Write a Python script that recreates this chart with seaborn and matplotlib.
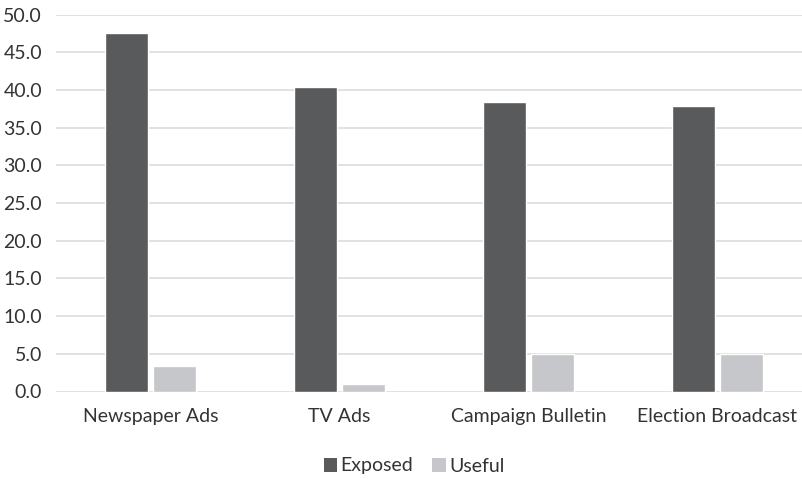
import matplotlib
matplotlib.use("Agg")
import matplotlib.pyplot as plt
from matplotlib.patches import Patch
import seaborn as sns
import pandas as pd

categories = ["Newspaper Ads", "TV Ads", "Campaign Bulletin", "Election Broadcast"]
exposed = [47.5, 40.4, 38.4, 37.9]
useful = [3.4, 1.0, 5.0, 5.0]
series_names = ["Exposed", "Useful"]
y_ticks = [0, 5, 10, 15, 20, 25, 30, 35, 40, 45, 50]
colors = ["#595a5c", "#c6c7ca"]

df = pd.DataFrame({
    "category": categories * 2,
    "value": exposed + useful,
    "series": [series_names[0]] * len(categories) + [series_names[1]] * len(categories),
})

sns.set_theme(style="white")
plt.rcParams["font.family"] = ["Lato", "DejaVu Sans"]

fig = plt.figure(figsize=(8.03, 4.79), dpi=100)
W, H = 803, 479
ax = fig.add_axes([56 / W, (H - 391.5) / H, 756 / W, 377 / H])

sns.barplot(data=df, x="category", y="value", hue="series", order=categories,
            hue_order=series_names, palette=colors, width=0.513, gap=0.11,
            saturation=1, legend=False, ax=ax, zorder=3)

ax.set_ylim(0, 50)
ax.set_xlim(-0.5, len(categories) - 0.5)
ax.set_yticks(y_ticks)
ax.set_yticklabels([f"{v:.1f}" for v in y_ticks])
ax.yaxis.grid(True, color="#d9d9d9", linewidth=1.1, zorder=0)
ax.set_axisbelow(True)
for s in ax.spines.values():
    s.set_visible(False)
ax.set_xlabel("")
ax.set_ylabel("")
ax.tick_params(axis="y", length=0, pad=10, labelsize=14, labelcolor="#333333")
ax.tick_params(axis="x", length=0, pad=12, labelsize=14, labelcolor="#333333")

handles = [Patch(facecolor=c, edgecolor="none") for c in colors]
fig.legend(handles, series_names, loc="center", bbox_to_anchor=(414 / W, 1 - 466 / H),
           ncol=2, frameon=False, fontsize=14, handlelength=0.7, handleheight=0.7,
           handletextpad=0.15, columnspacing=1.0, labelcolor="#333333")

fig.savefig("out.png", dpi=100)
